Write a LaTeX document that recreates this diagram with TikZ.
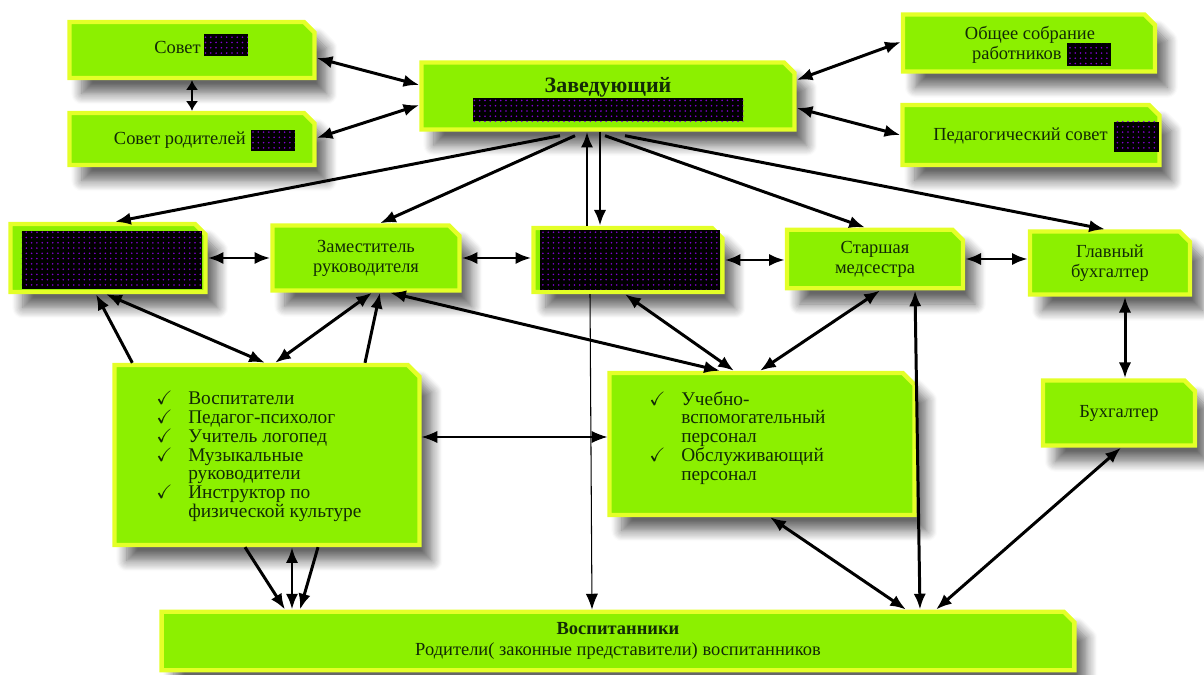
\documentclass[tikz,border=0pt]{standalone}
\usepackage{fontspec}
\setmainfont{Liberation Serif}
\usepackage{amssymb}
\usetikzlibrary{shapes.misc,shadows.blur,patterns,calc,arrows.meta}
\definecolor{limebox}{RGB}{140,240,0}
\definecolor{yelbox}{RGB}{228,255,40}
\definecolor{darktext}{RGB}{18,42,6}
\definecolor{dotviolet}{RGB}{130,0,210}

\tikzset{
  box/.style={chamfered rectangle, chamfered rectangle corners=north east,
    chamfered rectangle sep=3pt, fill=limebox, draw=yelbox, line width=2.5pt,
    text=darktext, align=center, font=\fontsize{10.5}{11.5}\selectfont,
    blur shadow={shadow xshift=7pt, shadow yshift=-9pt, shadow blur steps=10, shadow blur radius=6pt, shadow opacity=60}},
  listbox/.style={box, chamfered rectangle sep=14pt},
  redact/.style={fill=black, postaction={pattern=dots, pattern color=dotviolet}, inner sep=0pt},
  lbl/.style={text=darktext, font=\fontsize{10.5}{11.5}\selectfont, inner sep=0pt},
  listlbl/.style={text=darktext, font=\fontsize{11}{10.5}\selectfont, inner sep=0pt, align=left},
  link/.style={line width=1.7pt, black},
  thinlink/.style={line width=0.6pt, black},
}

\begin{document}
\begin{tikzpicture}[x=0.02cm, y=-0.02cm, >={Latex[length=9pt,width=7pt]}]
\useasboundingbox (0,0) rectangle (1204,675);

% top row
\node[box, minimum width=4.9cm, minimum height=1.12cm] (sovet) at (192,50) {};
\node[lbl, anchor=base east] (sovet-t) at (201,54) {Совет};
\node[redact, minimum width=0.88cm, minimum height=0.44cm] (sovet-r) at (226,45) {};

\node[box, minimum width=4.9cm, minimum height=1.04cm] (sovrod) at (192,139) {};
\node[lbl, anchor=base east] (sovrod-t) at (246,145) {Совет родителей};
\node[redact, minimum width=0.88cm, minimum height=0.42cm] (sovrod-r) at (273,141) {};

\node[box, minimum width=7.46cm, minimum height=1.34cm] (zav) at (608,96) {};
\node[lbl, font=\fontsize{12.5}{13}\selectfont\bfseries] (zav-t) at (608,87) {Заведующий};
\node[redact, minimum width=5.42cm, minimum height=0.46cm] (zav-r) at (608,110) {};

\node[box, minimum width=5.04cm, minimum height=1.14cm] (obsh) at (1029,43) {};
\node[lbl] (obsh-t) at (1030,35) {Общее собрание};
\node[lbl, anchor=base east] (obsh-t2) at (1062,60) {работников};
\node[redact, minimum width=0.88cm, minimum height=0.46cm] (obsh-r) at (1089,55) {};

\node[box, minimum width=5.14cm, minimum height=1.2cm] (ped) at (1031,135) {};
\node[lbl, anchor=base east] (ped-t) at (1108,141) {Педагогический совет};
\node[redact, minimum width=0.9cm, minimum height=0.6cm] (ped-r) at (1136,137) {};

% second row
\node[box, minimum width=3.9cm, minimum height=1.36cm] (blackA) at (108,258) {};
\node[redact, minimum width=3.62cm, minimum height=1.16cm] (blackA-r) at (112,260) {};
\node[box, minimum width=3.74cm, minimum height=1.3cm] (zam) at (366,258) {Заместитель\\руководителя};
\node[box, minimum width=3.78cm, minimum height=1.28cm] (blackB) at (628,260) {};
\node[redact, minimum width=3.62cm, minimum height=1.2cm] (blackB-r) at (630,260) {};
\node[box, minimum width=3.52cm, minimum height=1.16cm] (med) at (875,259) {Старшая\\медсестра};
\node[box, minimum width=3.2cm, minimum height=1.26cm] (glav) at (1110,263) {Главный\\бухгалтер};

% third row
\node[listbox, minimum width=6.1cm, minimum height=3.6cm] (vosp) at (267,455) {};
\node[listlbl, anchor=north west] (vosp-t) at (156,391) {%
  \begin{tabular}{@{}l@{\hspace{9pt}}l@{}}
  $\checkmark$ & Воспитатели\\
  $\checkmark$ & Педагог-психолог\\
  $\checkmark$ & Учитель логопед\\
  $\checkmark$ & Музыкальные\\
               & руководители\\
  $\checkmark$ & Инструктор по\\
               & физической культуре
  \end{tabular}};
\node[listbox, minimum width=6.1cm, minimum height=2.84cm] (ucheb) at (762,444) {};
\node[listlbl, anchor=north west] (ucheb-t) at (649,391) {%
  \begin{tabular}{@{}l@{\hspace{9pt}}l@{}}
  $\checkmark$ & Учебно-\\
               & вспомогательный\\
               & персонал\\
  $\checkmark$ & Обслуживающий\\
               & персонал
  \end{tabular}};
\node[box, minimum width=3.04cm, minimum height=1.3cm] (buh) at (1119,413) {Бухгалтер};

% bottom
\node[box, minimum width=18.26cm, minimum height=1.14cm] (deti) at (618,641)
  {\textbf{Воспитанники}\\Родители( законные представители) воспитанников};

% links of the top row
\draw[link,{Latex[length=5.5pt,width=7pt]}-{Latex[length=5.5pt,width=7pt]}] (sovet.south) -- (sovrod.north);
\draw[link,<->] ($(sovet.east)+(0,8)$) -- ($(zav.west)+(0,-11)$);
\draw[link,<->] ($(sovrod.east)+(0,-1)$) -- ($(zav.west)+(0,9)$);
\draw[link,<->] ($(zav.east)+(0,-16)$) -- ($(obsh.west)+(0,-1)$);
\draw[link,<->] ($(zav.east)+(0,12)$) -- (ped.west);

% from the head down
\draw[link,->] ($(zav.south)+(-48,4)$) -- ($(blackA.north)+(7,0)$);
\draw[link,->] ($(zav.south)+(-33,4)$) -- ($(zam.north)+(14,0)$);
\draw[link,->] ($(blackB.north)+(-41,0)$) -- ($(zav.south)+(-21,0)$);
\draw[link,->] ($(zav.south)+(-8,0)$) -- ($(blackB.north)+(-28,0)$);
\draw[link,->] ($(zav.south)+(-3,4)$) -- ($(med.north)+(-10,0)$);
\draw[link,->] ($(zav.south)+(17,4)$) -- ($(glav.north)+(-5,0)$);

% second row
\draw[link,<->] (blackA.east) -- (zam.west);
\draw[link,<->] (zam.east) -- (zam.east -| blackB.west);
\draw[link,<->] (blackB.east) -- (blackB.east -| med.west);
\draw[link,<->] (med.east) -- (med.east -| glav.west);
\draw[link,<->] ($(glav.south)+(15,0)$) -- ($(buh.north)+(6,0)$);

% to the staff boxes
\draw[link,->] ($(vosp.north west)+(20,0)$) -- ($(blackA.south)+(-12,0)$);
\draw[link,<->] ($(blackA.south)+(-2,0)$) -- ($(vosp.north)+(-2,0)$);
\draw[link,<->] ($(vosp.north)+(8,0)$) -- ($(zam.south)+(6,0)$);
\draw[link,->] ($(vosp.north)+(98,0)$) -- ($(zam.south)+(14,0)$);
\draw[link,<->] ($(zam.south)+(24,0)$) -- ($(ucheb.north)+(-42,0)$);
\draw[link,<->] ($(blackB.south)+(-3,0)$) -- ($(ucheb.north)+(-28,0)$);
\draw[link,<->] ($(med.south)+(5,0)$) -- ($(ucheb.north)+(-2,0)$);
\draw[thinlink,<->] ($(vosp.east)+(0,-18)$) -- ($(ucheb.west)+(0,-7)$);

% to the bottom box
\draw[link,<->] ($(med.south)+(40,0)$) -- ($(deti.north)+(302,0)$);
\draw[link,<->] ($(ucheb.south)+(8,0)$) -- ($(deti.north)+(288,0)$);
\draw[link,<->] ($(buh.south)+(2,0)$) -- ($(deti.north)+(318,0)$);
\draw[link,->] ($(vosp.south)+(-22,0)$) -- ($(deti.north)+(-333,0)$);
\draw[link,<->] ($(vosp.south)+(25,0)$) -- ($(deti.north)+(-326,0)$);
\draw[link,->] ($(vosp.south)+(51,0)$) -- ($(deti.north)+(-318,0)$);
\draw[thinlink,->] ($(blackB.south)+(-38,0)$) -- ($(deti.north)+(-26,0)$);
\end{tikzpicture}
\end{document}
